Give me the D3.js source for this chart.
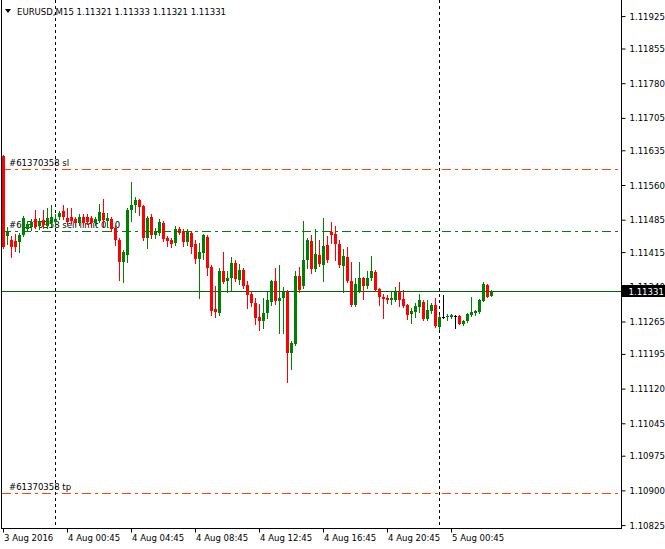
<!DOCTYPE html>
<html><head><meta charset="utf-8">
<script src="https://cdn.jsdelivr.net/npm/d3@7"></script>
<style>
body{margin:0;background:#fff}
svg{display:block}
text{font-family:"DejaVu Sans Condensed","DejaVu Sans",sans-serif;font-stretch:condensed;font-size:9.5px}
</style>
</head><body>
<svg id="chart" width="665" height="549"></svg>
<script>
// ---- data ----
const symbolName = "EURUSD,M15";
const headerOHLC = ["1.11321", "1.11333", "1.11321", "1.11331"];

const openP = [1.11623,1.11450,1.11441,1.11439,1.11437,1.11452,1.11465,1.11470,1.11487,1.11472,
1.11485,1.11472,1.11478,1.11480,1.11491,1.11504,1.11489,1.11491,1.11487,1.11478,
1.11491,1.11491,1.11489,1.11478,1.11483,1.11500,1.11483,1.11487,1.11467,1.11441,
1.11394,1.11409,1.11506,1.11517,1.11528,1.11515,1.11446,1.11491,1.11452,1.11457,
1.11478,1.11446,1.11441,1.11435,1.11465,1.11459,1.11437,1.11457,1.11433,1.11400,
1.11413,1.11448,1.11383,1.11292,1.11284,1.11374,1.11353,1.11359,1.11392,1.11355,
1.11377,1.11344,1.11325,1.11305,1.11275,1.11266,1.11284,1.11307,1.11353,1.11310,
1.11316,1.11329,1.11197,1.11217,1.11364,1.11342,1.11398,1.11439,1.11379,1.11409,
1.11387,1.11431,1.11459,1.11455,1.11433,1.11385,1.11405,1.11353,1.11301,1.11331,
1.11359,1.11342,1.11359,1.11372,1.11335,1.11318,1.11316,1.11312,1.11312,1.11329,
1.11314,1.11301,1.11281,1.11286,1.11297,1.11307,1.11271,1.11288,1.11301,1.11253,
1.11275,1.11275,1.11275,1.11277,1.11277,1.11260,1.11266,1.11279,1.11284,1.11286,
1.11310,1.11344,1.11321];
const highP = [1.11625,1.11470,1.11450,1.11455,1.11457,1.11493,1.11483,1.11487,1.11506,1.11489,
1.11506,1.11511,1.11517,1.11498,1.11504,1.11517,1.11511,1.11511,1.11491,1.11498,
1.11498,1.11498,1.11493,1.11491,1.11519,1.11530,1.11500,1.11491,1.11474,1.11446,
1.11420,1.11511,1.11566,1.11534,1.11530,1.11517,1.11493,1.11498,1.11467,1.11487,
1.11483,1.11450,1.11446,1.11472,1.11470,1.11465,1.11465,1.11461,1.11441,1.11435,
1.11455,1.11452,1.11387,1.11342,1.11381,1.11416,1.11374,1.11405,1.11398,1.11389,
1.11381,1.11353,1.11329,1.11316,1.11303,1.11316,1.11329,1.11355,1.11381,1.11387,
1.11340,1.11333,1.11223,1.11374,1.11383,1.11483,1.11446,1.11452,1.11465,1.11441,
1.11489,1.11450,1.11480,1.11472,1.11441,1.11422,1.11426,1.11394,1.11359,1.11394,
1.11361,1.11374,1.11407,1.11377,1.11338,1.11325,1.11323,1.11329,1.11340,1.11351,
1.11333,1.11303,1.11294,1.11305,1.11325,1.11312,1.11312,1.11305,1.11316,1.11279,
1.11323,1.11281,1.11281,1.11279,1.11279,1.11268,1.11284,1.11318,1.11290,1.11314,
1.11351,1.11346,1.11333];
const lowP = [1.11424,1.11433,1.11405,1.11418,1.11416,1.11450,1.11461,1.11463,1.11467,1.11465,
1.11467,1.11467,1.11472,1.11472,1.11487,1.11487,1.11476,1.11478,1.11474,1.11474,
1.11476,1.11476,1.11472,1.11474,1.11480,1.11472,1.11470,1.11461,1.11431,1.11355,
1.11351,1.11394,1.11483,1.11502,1.11496,1.11441,1.11424,1.11446,1.11446,1.11452,
1.11439,1.11429,1.11426,1.11431,1.11455,1.11429,1.11431,1.11413,1.11392,1.11316,
1.11400,1.11366,1.11279,1.11275,1.11279,1.11348,1.11329,1.11333,1.11353,1.11346,
1.11338,1.11294,1.11299,1.11260,1.11247,1.11251,1.11273,1.11301,1.11303,1.11241,
1.11241,1.11135,1.11163,1.11215,1.11329,1.11338,1.11381,1.11370,1.11374,1.11385,
1.11353,1.11394,1.11435,1.11398,1.11383,1.11329,1.11351,1.11299,1.11299,1.11329,
1.11314,1.11338,1.11355,1.11331,1.11301,1.11273,1.11305,1.11303,1.11310,1.11299,
1.11297,1.11271,1.11262,1.11275,1.11286,1.11269,1.11269,1.11284,1.11253,1.11249,
1.11273,1.11268,1.11273,1.11251,1.11260,1.11258,1.11264,1.11277,1.11279,1.11284,
1.11310,1.11317,1.11321];
const closeP = [1.11426,1.11461,1.11426,1.11426,1.11452,1.11489,1.11476,1.11480,1.11470,1.11483,
1.11474,1.11489,1.11491,1.11487,1.11500,1.11491,1.11480,1.11483,1.11478,1.11491,
1.11478,1.11480,1.11478,1.11487,1.11502,1.11485,1.11489,1.11465,1.11441,1.11394,
1.11416,1.11506,1.11517,1.11528,1.11513,1.11446,1.11489,1.11452,1.11461,1.11480,
1.11444,1.11439,1.11433,1.11465,1.11457,1.11437,1.11459,1.11426,1.11400,1.11416,
1.11452,1.11381,1.11288,1.11286,1.11374,1.11351,1.11359,1.11392,1.11357,1.11377,
1.11342,1.11323,1.11305,1.11273,1.11266,1.11284,1.11312,1.11353,1.11310,1.11316,
1.11329,1.11197,1.11219,1.11364,1.11333,1.11398,1.11441,1.11379,1.11411,1.11389,
1.11429,1.11398,1.11452,1.11433,1.11387,1.11407,1.11353,1.11301,1.11346,1.11359,
1.11342,1.11359,1.11374,1.11333,1.11318,1.11314,1.11312,1.11316,1.11329,1.11312,
1.11299,1.11279,1.11288,1.11299,1.11312,1.11271,1.11290,1.11301,1.11256,1.11275,
1.11275,1.11277,1.11279,1.11277,1.11260,1.11266,1.11281,1.11286,1.11288,1.11312,
1.11346,1.11318,1.11331];

const timeLabels = ["3 Aug 2016","4 Aug 00:45","4 Aug 04:45","4 Aug 08:45","4 Aug 12:45","4 Aug 16:45","4 Aug 20:45","5 Aug 00:45"];
const timeLabelBars = [0,16,32,48,64,80,96,112];
const daySeparatorBars = [13,109];

const priceTicks = [1.11925,1.11855,1.11780,1.11705,1.11635,1.11560,1.11485,1.11415,1.11340,1.11265,1.11195,1.11120,1.11045,1.10975,1.10900,1.10825];
const bidPrice = 1.11331;
const bidText = "1.11331";

const orderLabels = ["#61370358 sl","#61370358 sell limit 0.10","#61370358 tp"];
const orderPrices = [1.11595,1.11460,1.10895];
const orderColors = ["#ff4500","#008000","#ff4500"];

// ---- layout ----
const W = 665, H = 549;
const plotLeft = 1.5, plotRight = 621.5, plotBottom = 528.5;
const svg = d3.select("#chart");
svg.append("rect").attr("width", W).attr("height", H).attr("fill", "#fff");

const x = d3.scaleLinear().domain([0, openP.length - 1]).range([3.5, 491.5]);
const y = d3.scaleLinear().domain([1.10825, 1.11925]).range([525.1, 16.1]);

const bars = openP.map((o, i) => ({i, o, h: highP[i], l: lowP[i], c: closeP[i]}));

// order lines
const orders = orderLabels.map((t, k) => ({t, p: orderPrices[k], col: orderColors[k]}));
const og = svg.append("g").attr("class", "orders");
orders.forEach(d => {
  const yy = Math.round(y(d.p)) + 0.5;
  og.append("line")
    .attr("x1", plotLeft).attr("x2", plotRight)
    .attr("y1", yy).attr("y2", yy)
    .style("stroke", d.col).style("stroke-width", "1px")
    .style("stroke-dasharray", "9,4,3,4")
    .attr("shape-rendering", "crispEdges");
  og.append("text")
    .attr("x", 9).attr("y", yy - 3.5)
    .attr("fill", "#000").text(d.t);
});

// day separators
svg.append("g").selectAll("line").data(daySeparatorBars).join("line")
  .attr("x1", d => Math.floor(x(d)) + 0.5).attr("x2", d => Math.floor(x(d)) + 0.5)
  .attr("y1", 0).attr("y2", plotBottom)
  .style("stroke", "#000").style("stroke-dasharray", "3,3")
  .attr("shape-rendering", "crispEdges");

// bid line
const byy = Math.round(y(bidPrice)) + 0.5;
svg.append("line").attr("x1", plotLeft).attr("x2", plotRight)
  .attr("y1", byy).attr("y2", byy)
  .style("stroke", "#006400").attr("shape-rendering", "crispEdges");

// candles
const colorOf = d => d.c > d.o ? "#008000" : (d.c < d.o ? "#ff0000" : "#000");
const g = svg.append("g").attr("shape-rendering", "crispEdges");
g.selectAll("rect.wick").data(bars).join("rect").attr("class", "wick")
  .attr("x", d => Math.floor(x(d.i)))
  .attr("width", 1)
  .attr("y", d => Math.round(y(d.h)))
  .attr("height", d => Math.max(1, Math.round(y(d.l)) - Math.round(y(d.h)) + 1))
  .attr("fill", colorOf);
g.selectAll("rect.body").data(bars).join("rect").attr("class", "body")
  .attr("x", d => Math.floor(x(d.i)) - 1)
  .attr("width", 3)
  .attr("y", d => Math.round(y(Math.max(d.o, d.c))))
  .attr("height", d => Math.max(1, Math.round(y(Math.min(d.o, d.c))) - Math.round(y(Math.max(d.o, d.c)))))
  .attr("fill", colorOf);

// frame
const fg = svg.append("g").attr("shape-rendering", "crispEdges").style("stroke", "#000");
fg.append("line").attr("x1", plotLeft).attr("x2", plotLeft).attr("y1", 0).attr("y2", plotBottom);
fg.append("line").attr("x1", plotRight).attr("x2", plotRight).attr("y1", 0).attr("y2", plotBottom);
fg.append("line").attr("x1", plotLeft).attr("x2", plotRight).attr("y1", plotBottom).attr("y2", plotBottom);

// price axis
const yAxis = d3.axisRight(y).tickValues(priceTicks).tickFormat(d3.format(".5f")).tickSize(4).tickPadding(4);
const ya = svg.append("g").attr("transform", `translate(${plotRight},0)`).call(yAxis);
ya.select(".domain").remove();
ya.attr("font-family", null).attr("font-size", null);
ya.selectAll("text").attr("fill", "#000");
ya.selectAll("line").attr("stroke", "#000");

// time axis
const tg = svg.append("g");
tg.selectAll("line").data(timeLabelBars).join("line")
  .attr("x1", d => Math.floor(x(d)) + 0.5).attr("x2", d => Math.floor(x(d)) + 0.5)
  .attr("y1", plotBottom).attr("y2", plotBottom + 4).style("stroke", "#000");
tg.selectAll("text").data(timeLabels).join("text")
  .attr("x", (d, k) => Math.floor(x(timeLabelBars[k])) + 1)
  .attr("y", 541).attr("fill", "#000").text(d => d);

// bid label
const by = Math.round(y(bidPrice));
svg.append("rect").attr("x", plotRight + 0.5).attr("y", by - 6).attr("width", W - plotRight).attr("height", 12).attr("fill", "#000");
svg.append("text").attr("x", plotRight + 7).attr("y", by + 4).attr("fill", "#fff").text(bidText);

// header
svg.append("path").attr("d", "M5,9 L11,9 L8,13 Z").attr("fill", "#000");
svg.append("text").attr("x", 17).attr("y", 15).attr("fill", "#000")
  .text(symbolName + "  " + headerOHLC.join(" "));
</script>
</body></html>
